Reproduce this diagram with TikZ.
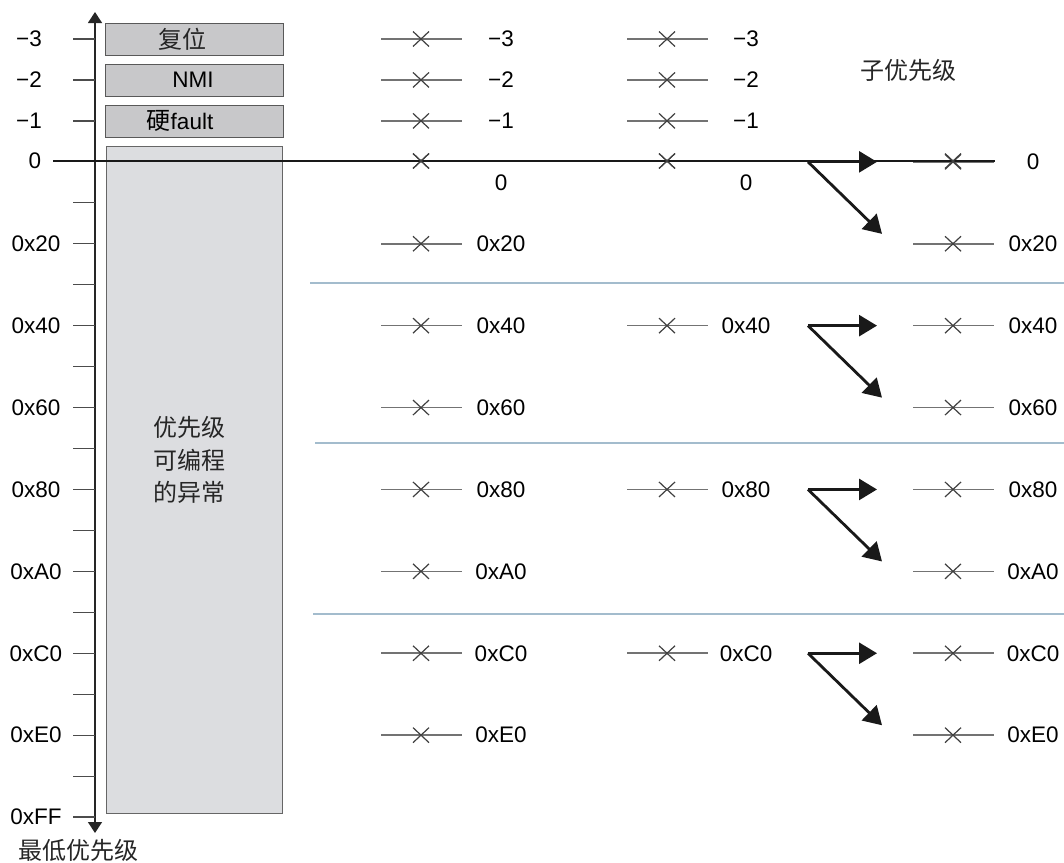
\documentclass[tikz,border=0pt]{standalone}
\usepackage{fontspec}
\setmainfont{Liberation Sans}
\newfontfamily\cjk{Noto Sans CJK SC}
\usetikzlibrary{arrows.meta}
\definecolor{sepblue}{HTML}{A3BCCD}
\definecolor{boxdark}{HTML}{C8C8CA}
\definecolor{boxlight}{HTML}{DCDDE0}
\begin{document}
\begin{tikzpicture}[x=1pt,y=-1pt,
  lbl/.style={font=\fontsize{22.5}{24}\selectfont, inner sep=0pt, text=black},
  cj/.style={font=\cjk\fontsize{24}{32.5}\selectfont, inner sep=0pt, text=black!85},
  tickline/.style={draw=black!70, line width=1.2pt},
  xline/.style={draw=black!55, line width=1.6pt},
  xmark/.style={draw=black!75, line width=1.2pt},
  sepline/.style={draw=sepblue, line width=2pt},
  bigarrow/.style={draw=black!90, line width=2.8pt, -{Triangle[length=18pt,width=21pt]}},
  grbox/.style={draw=black!65, fill=boxdark, line width=1pt, inner sep=0pt, minimum width=178pt, minimum height=32pt},
  xm/.pic={\draw[xline] (-40,0) -- (41,0);
           \draw[xmark] (-8,-7.5) -- (8,7.5) (-8,7.5) -- (8,-7.5);}
]
\useasboundingbox (0,0) rectangle (1064,862);

% big programmable box
\node[draw=black!60, fill=boxlight, line width=1pt, inner sep=0pt,
      minimum width=176pt, minimum height=667pt] (bigbox) at (194,479.5) {};
\node[cj, align=center] (bigtxt) at (189,460) {优先级\\可编程\\的异常};

% fixed priority boxes
\node[grbox] (reset) at (194,39) {};
\node[cj] (resettxt) at (182,39) {复位};
\node[grbox] (nmi) at (194,80) {};
\node[lbl] (nmitxt) at (193,80) {NMI};
\node[grbox] (hf) at (194,121) {};
\node[lbl] (hftxt) at (180,121) {{\cjk\fontsize{24}{26}\selectfont 硬}fault};

% axis
\coordinate (axtop) at (95,12);
\coordinate (axbot) at (95,833);
\draw[black!85, line width=1.3pt, {Triangle[length=11pt,width=14pt]}-{Triangle[length=11pt,width=14pt]}] (axbot) -- (axtop);

% ticks
\foreach \i in {0,...,19} {
  \coordinate (t\i) at (95,{39+\i*40.95});
  \draw[tickline] (t\i) -- ++(-22,0);
}

% axis labels
\foreach \i/\t in {0/−3,1/−2,2/−1} {
  \node[lbl, anchor=east] (al\i) at (42,{39+\i*40.95}) {\t};
}
\node[lbl] (al3) at (35,161) {0};
\foreach \i/\t in {5/0x20,7/0x40,9/0x60,11/0x80,13/0xA0,15/0xC0,17/0xE0,19/0xFF} {
  \node[lbl] (al\i) at (36,{39+\i*40.95}) {\t};
}

% column 1
\foreach \i/\t in {0/−3,1/−2,2/−1,5/0x20,7/0x40,9/0x60,11/0x80,13/0xA0,15/0xC0,17/0xE0} {
  \pic at (421,{39+\i*40.95}) {xm};
  \node[lbl] (ca\i) at (501,{39+\i*40.95}) {\t};
}
\pic at (421,161) {xm};
\node[lbl] (ca3) at (501,183) {0};

% column 2
\foreach \i/\t in {0/−3,1/−2,2/−1,7/0x40,11/0x80,15/0xC0} {
  \pic at (667,{39+\i*40.95}) {xm};
  \node[lbl] (cb\i) at (746,{39+\i*40.95}) {\t};
}
\pic at (667,161) {xm};
\node[lbl] (cb3) at (746,183) {0};

% column 3 (sub-priority)
\node[cj] (subp) at (908,70) {子优先级};
\foreach \i/\t in {3/0,5/0x20,7/0x40,9/0x60,11/0x80,13/0xA0,15/0xC0,17/0xE0} {
  \pic at (953,{39+\i*40.95}) {xm};
  \node[lbl] (cc\i) at (1033,{39+\i*40.95}) {\t};
}

% zero line (drawn over the row-0 marks)
\coordinate (zl) at (53,161);
\coordinate (zr) at (995,161);
\draw[black!90, line width=1.2pt] (zl) -- (zr);
\foreach \xx in {421,667,953} {
  \draw[xmark] (\xx-8,153.5) -- (\xx+8,168.5) (\xx-8,168.5) -- (\xx+8,153.5);
}

% split arrows
\foreach \i in {3,7,11,15} {
  \coordinate (s\i) at (808,{39+\i*40.95});
  \draw[bigarrow] (s\i) -- ++(69,0);
  \draw[bigarrow] (s\i) -- ++(74,72);
}

% group separators
\coordinate (g1a) at (310,283);  \coordinate (g1b) at (1064,283);
\coordinate (g2a) at (315,443);  \coordinate (g2b) at (1064,443);
\coordinate (g3a) at (313,614);  \coordinate (g3b) at (1064,614);
\draw[sepline] (g1a) -- (g1b);
\draw[sepline] (g2a) -- (g2b);
\draw[sepline] (g3a) -- (g3b);

% bottom label
\node[cj] (lowest) at (78,850) {最低优先级};
\end{tikzpicture}
\end{document}
